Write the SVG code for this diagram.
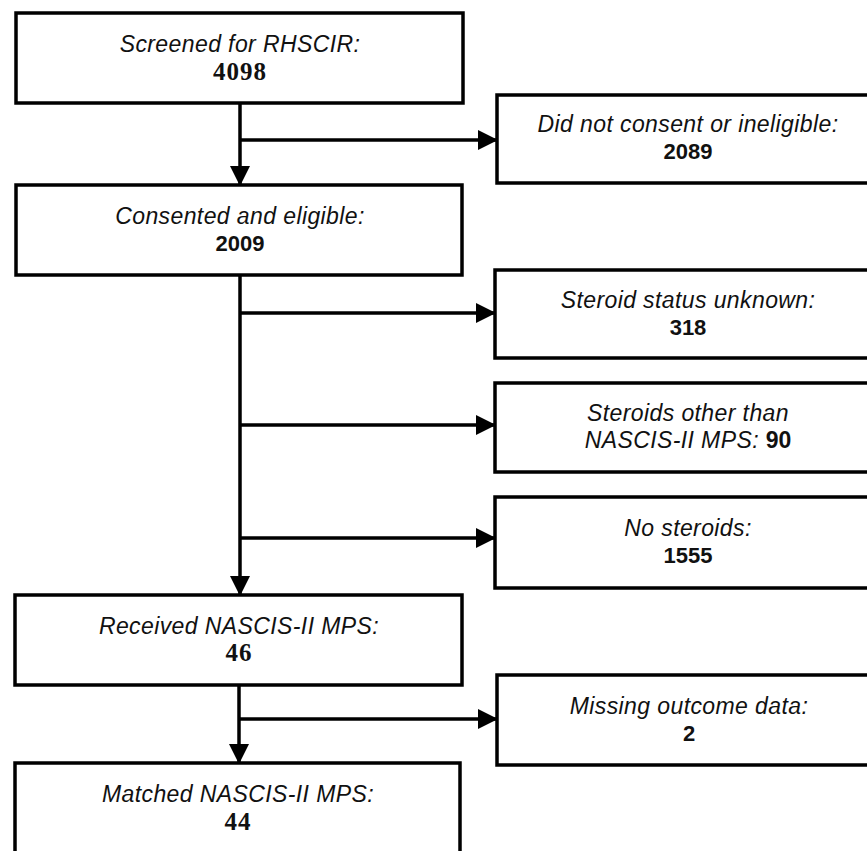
<svg xmlns="http://www.w3.org/2000/svg" width="867" height="851" viewBox="0 0 867 851">
<style>
.box{fill:#fff;stroke:#000;stroke-width:3.5}
.lbl{font-family:"Liberation Sans",Arial,sans-serif;font-style:italic;font-size:23px;letter-spacing:0.4px;fill:#111;text-anchor:middle}
.num{font-family:"Liberation Sans",Arial,sans-serif;font-weight:bold;font-size:22px;fill:#111;text-anchor:middle}
.numS{font-family:"Liberation Serif","Times New Roman",serif;font-weight:bold;font-size:25px;letter-spacing:1px;fill:#111;text-anchor:middle}
.con{stroke:#000;stroke-width:3.5;fill:none}
</style>
<defs>
<marker id="ah" markerUnits="userSpaceOnUse" markerWidth="20" markerHeight="20" refX="19" refY="10" orient="auto">
<path d="M0,0 L20,10 L0,20 Z" fill="#000"/>
</marker>
</defs>
<rect width="867" height="851" fill="#fff"/>
<g id="connectors">
<line class="con" x1="240" y1="103" x2="240" y2="185" marker-end="url(#ah)"/>
<line class="con" x1="240" y1="140" x2="497" y2="140" marker-end="url(#ah)"/>
<line class="con" x1="240" y1="275" x2="240" y2="595" marker-end="url(#ah)"/>
<line class="con" x1="240" y1="313" x2="495" y2="313" marker-end="url(#ah)"/>
<line class="con" x1="240" y1="425" x2="495" y2="425" marker-end="url(#ah)"/>
<line class="con" x1="240" y1="538" x2="495" y2="538" marker-end="url(#ah)"/>
<line class="con" x1="239" y1="685" x2="239" y2="763" marker-end="url(#ah)"/>
<line class="con" x1="239" y1="719" x2="497" y2="719" marker-end="url(#ah)"/>
</g>
<g id="screened">
<rect class="box" x="16" y="13" width="447" height="90"/>
<text class="lbl" x="240" y="52">Screened for RHSCIR:</text>
<text class="numS" x="240" y="80">4098</text>
</g>
<g id="notconsent">
<rect class="box" x="497" y="95" width="384" height="88"/>
<text class="lbl" x="688" y="132">Did not consent or ineligible:</text>
<text class="num" x="688" y="159">2089</text>
</g>
<g id="consented">
<rect class="box" x="16" y="185" width="446" height="90"/>
<text class="lbl" x="240" y="224">Consented and eligible:</text>
<text class="num" x="240" y="251">2009</text>
</g>
<g id="unknown">
<rect class="box" x="495" y="270" width="386" height="88"/>
<text class="lbl" x="688" y="308">Steroid status unknown:</text>
<text class="num" x="688" y="335">318</text>
</g>
<g id="other">
<rect class="box" x="495" y="383" width="386" height="89"/>
<text class="lbl" x="688" y="421">Steroids other than</text>
<text class="lbl" x="688" y="448">NASCIS-II MPS: <tspan style="font-style:normal;font-weight:bold;letter-spacing:0">90</tspan></text>
</g>
<g id="nosteroids">
<rect class="box" x="495" y="497" width="386" height="91"/>
<text class="lbl" x="688" y="536">No steroids:</text>
<text class="num" x="688" y="563">1555</text>
</g>
<g id="received">
<rect class="box" x="15" y="595" width="447" height="90"/>
<text class="lbl" x="239" y="634">Received NASCIS-II MPS:</text>
<text class="numS" x="239" y="661">46</text>
</g>
<g id="missing">
<rect class="box" x="497" y="675" width="384" height="90"/>
<text class="lbl" x="689" y="714">Missing outcome data:</text>
<text class="num" x="689" y="741">2</text>
</g>
<g id="matched">
<rect class="box" x="15" y="763" width="445" height="110"/>
<text class="lbl" x="238" y="802">Matched NASCIS-II MPS:</text>
<text class="numS" x="238" y="830">44</text>
</g>
</svg>
